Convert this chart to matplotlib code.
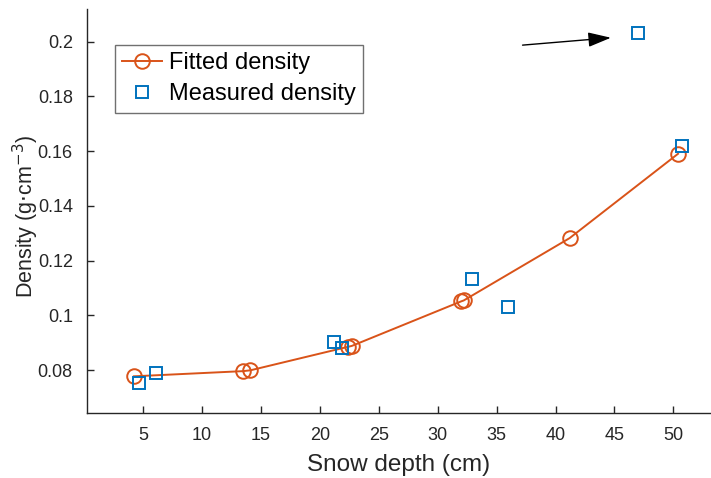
import matplotlib
matplotlib.use("Agg")
import matplotlib.pyplot as plt
from matplotlib.ticker import FuncFormatter

# -------- DATA --------
fit_depth = [4.2, 13.5, 14.1, 22.4, 22.7, 32.0, 32.2, 41.2, 50.4]
fit_density = [0.0777, 0.0796, 0.0799, 0.0885, 0.0888, 0.1051, 0.1054, 0.1282, 0.1590]

meas_depth = [4.6, 6.1, 21.2, 21.9, 32.9, 36.0, 47.0, 50.7]
meas_density = [0.0751, 0.0790, 0.0901, 0.0879, 0.1133, 0.1031, 0.2031, 0.1620]

# arrow pointing to the outlier
arrow_start = (37.2, 0.1987)
arrow_end = (44.7, 0.2014)

x_ticks = [5, 10, 15, 20, 25, 30, 35, 40, 45, 50]
y_ticks = [0.08, 0.1, 0.12, 0.14, 0.16, 0.18, 0.2]

# -------- STYLE --------
ORANGE = "#D95319"
BLUE = "#0072BD"
AX_COLOR = "#262626"

plt.rcParams["font.family"] = ["Liberation Sans", "DejaVu Sans"]

fig = plt.figure(figsize=(7.11, 4.78), dpi=100)
ax = fig.add_axes([0.122, 0.136, 0.878, 0.8446])

ax.plot(fit_depth, fit_density, color=ORANGE, lw=1.4, marker="o", ms=10.5,
        mfc="none", mec=ORANGE, mew=1.4, label="Fitted density")
ax.plot(meas_depth, meas_density, ls="none", marker="s", ms=8.5,
        mfc="none", mec=BLUE, mew=1.4, label="Measured density")

ax.annotate("", xy=arrow_end, xytext=arrow_start,
            arrowprops=dict(arrowstyle="-|>,head_length=1.4,head_width=0.45",
                            color="black", lw=1.0, shrinkA=0, shrinkB=0))

ax.set_xlim(0.2, 53.2)
ax.set_ylim(0.0643, 0.2118)
ax.set_xticks(x_ticks)
ax.set_yticks(y_ticks)
ax.yaxis.set_major_formatter(FuncFormatter(lambda v, p: f"{v:g}"))

for side in ["top", "right"]:
    ax.spines[side].set_visible(False)
for side in ["left", "bottom"]:
    ax.spines[side].set_color(AX_COLOR)
    ax.spines[side].set_linewidth(1.0)

ax.tick_params(direction="in", length=5, width=1.0, colors=AX_COLOR,
               labelsize=13, pad=10)

ax.set_xlabel("Snow depth (cm)", fontsize=17.5, color=AX_COLOR, labelpad=7)
ax.set_ylabel(r"Density (g$\cdot$cm$^{-3}$)", fontsize=15.5, color=AX_COLOR)
ax.yaxis.set_label_coords(-0.074, 0.487)

leg = ax.legend(loc="upper left", bbox_to_anchor=(0.0453, 0.9116),
                borderaxespad=0, fontsize=17, fancybox=False, framealpha=1,
                handlelength=1.7, handletextpad=0.3, borderpad=0.3,
                labelspacing=0.4)
leg.get_frame().set_edgecolor("#707070")
leg.get_frame().set_linewidth(1.0)

fig.savefig("out.png", dpi=100)
